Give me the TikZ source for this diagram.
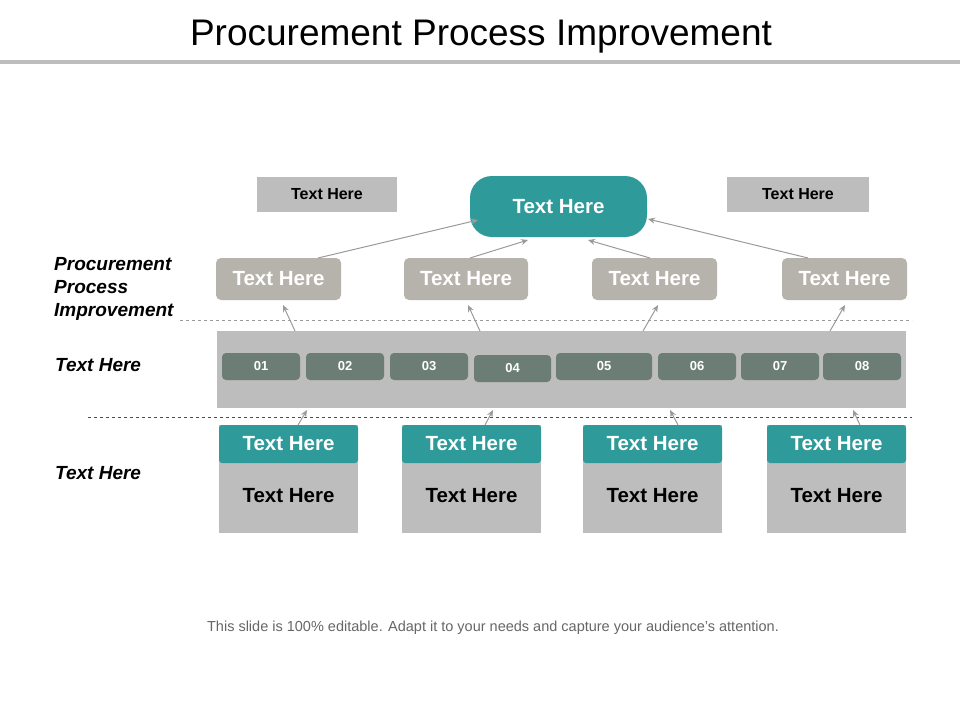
\documentclass[tikz,border=0pt]{standalone}
\usepackage{fontspec}
\setmainfont{Liberation Sans}
\usetikzlibrary{arrows.meta}
\definecolor{teal1}{HTML}{2E9A9A}
\definecolor{greybox}{HTML}{B5B3AB}
\definecolor{band}{HTML}{BDBDBD}
\definecolor{numc}{HTML}{6B7D75}
\definecolor{arr}{HTML}{9A9A9A}
\begin{document}
\begin{tikzpicture}[x=1pt,y=-1pt,
  box/.style={anchor=north west,inner sep=0pt,outer sep=0pt,font=\bfseries},
  conn/.style={draw=arr,line width=1pt,-{Stealth[length=7pt,width=6pt]}},
  lbl/.style={anchor=west,font=\bfseries\itshape\fontsize{19}{23}\selectfont,align=left}]
\useasboundingbox (0,0) rectangle (960,720);
\node (title) at (481,37) {\fontsize{37}{42}\selectfont Procurement Process Improvement};
\draw[line width=4pt,draw=band] (0,62) -- (960,62);
% top labels
\node[box,fill=band,minimum width=140,minimum height=35,font=\bfseries\fontsize{16}{18}\selectfont] (tl) at (257,177) {Text Here};
\node[box,fill=band,minimum width=142,minimum height=35,font=\bfseries\fontsize{16}{18}\selectfont] (tr) at (727,177) {Text Here};
\node[box,fill=teal1,rounded corners=22pt,minimum width=177,minimum height=61,text=white,font=\bfseries\fontsize{20.5}{24}\selectfont] (top) at (470,176) {Text Here};
% grey boxes
\foreach \n/\x/\w in {g1/216/125,g2/404/124,g3/592/125,g4/782/125}{
  \node[box,fill=greybox,rounded corners=5pt,minimum width=\w,minimum height=42,text=white,font=\bfseries\fontsize{20.5}{24}\selectfont] (\n) at (\x,258) {Text Here};}
% left labels
\node[lbl,anchor=north west,inner sep=0pt] (l1) at (54,257) {Procurement\\Process\\Improvement};
\node[lbl,inner sep=0pt] (l2) at (55,365) {Text Here};
\node[lbl,inner sep=0pt] (l3) at (55,473) {Text Here};
\draw[dashed,draw=arr] (180,320) -- (912,320);
\draw[dashed,draw=black!70] (88,417) -- (912,417);
\node[box,fill=band,minimum width=689,minimum height=77] (bandbox) at (217,331) {};
\foreach \n/\x/\w/\y/\t in {n1/222/78/353/01,n2/306/78/353/02,n3/390/78/353/03,n4/474/77/355/04,n5/556/96/353/05,n6/658/78/353/06,n7/741/78/353/07,n8/823/78/353/08}{
  \node[box,fill=numc,rounded corners=4pt,minimum width=\w,minimum height=27,text=white,font=\bfseries\fontsize{13}{15}\selectfont] (\n) at (\x,\y) {\t};}
% bottom
\foreach \i/\x in {1/219,2/402,3/583,4/767}{
  \node[box,fill=band,minimum width=139,minimum height=108] (b\i) at (\x,425) {};
  \node[font=\bfseries\fontsize{20.5}{24}\selectfont] (bt\i) at (\x+69.5,496) {Text Here};
  \node[box,fill=teal1,rounded corners=3pt,minimum width=139,minimum height=38,text=white,font=\bfseries\fontsize{20.5}{24}\selectfont] (h\i) at (\x,425) {Text Here};}
\node[text=black!60] (foot) at (493,628) {\fontsize{14.5}{16}\selectfont This slide is 100\% editable. Adapt it to your needs and capture your audience's attention.};
% arrows
\coordinate (a1s) at (318,258); \coordinate (a1e) at (478,220);
\coordinate (a2s) at (470,258); \coordinate (a2e) at (528,240);
\coordinate (a3s) at (650,258); \coordinate (a3e) at (588,240);
\coordinate (a4s) at (808,258); \coordinate (a4e) at (648,219);
\foreach \i in {1,...,4}{\draw[conn] (a\i s) -- (a\i e);}
\coordinate (c1s) at (295,331); \coordinate (c1e) at (283,305);
\coordinate (c2s) at (480,331); \coordinate (c2e) at (468,305);
\coordinate (c3s) at (643,331); \coordinate (c3e) at (658,305);
\coordinate (c4s) at (830,331); \coordinate (c4e) at (845,305);
\foreach \i in {1,...,4}{\draw[conn] (c\i s) -- (c\i e);}
\coordinate (d1s) at (298,425); \coordinate (d1e) at (307,410);
\coordinate (d2s) at (485,425); \coordinate (d2e) at (493,410);
\coordinate (d3s) at (678,425); \coordinate (d3e) at (670,410);
\coordinate (d4s) at (860,425); \coordinate (d4e) at (853,410);
\foreach \i in {1,...,4}{\draw[conn] (d\i s) -- (d\i e);}
\end{tikzpicture}
\end{document}
